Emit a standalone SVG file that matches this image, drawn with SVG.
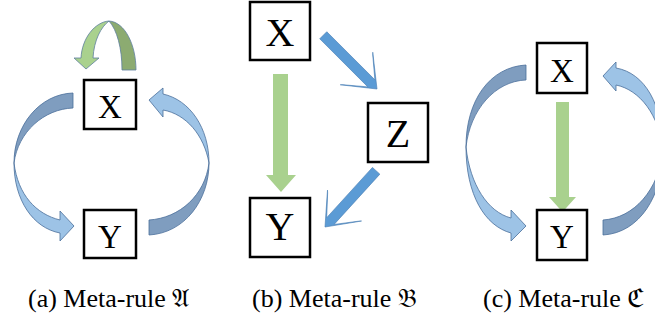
<svg xmlns="http://www.w3.org/2000/svg" width="655" height="322" viewBox="0 0 655 322">
<defs>
<style>
.box{fill:#fff;stroke:#000;stroke-width:2.5}
.lbl{text-anchor:middle;fill:#000}
.cap{font-size:26px;fill:#000}
.dk{fill:#7f9dbf;stroke:#4a6f9a;stroke-width:0.8;stroke-linejoin:round}
.lt{fill:#9dc3e6;stroke:#4a6f9a;stroke-width:0.8;stroke-linejoin:round}
.gl{fill:#a9d18e;stroke:#5e7f9e;stroke-width:0.8;stroke-linejoin:round}
.gd{fill:#8cab71;stroke:#5e7f9e;stroke-width:0.8;stroke-linejoin:round}
.gs{fill:#a9d18e}
.bs{fill:#5b9bd5;stroke:#4a7fb5;stroke-width:0.6;stroke-linejoin:round}
</style>
<path id="barb" d="M-76,-5 L-8,-5 L-27,-21 L-29,-23 L0,0 L-29,23 L-27,21 L-8,5 L-76,5 Z"/>
</defs>
<rect width="655" height="322" fill="#fff"/>
<g id="connectors">
<path class="dk" d="M73,93 C40,94 14,125 14,163 C18,132 44,109 73,108 Z"/>
<path class="lt" d="M14,163 C14,200 33,228 60,233 L60,241 L74,226 L60,211 L60,220 C36,214 18,195 14,163 Z"/>
<path class="dk" d="M149,235 C185,233 209,200 209,163 C205,195 180,218 149,220 Z"/>
<path class="lt" d="M209,163 C209,128 190,100 163,94 L163,88 L149,100 L163,117 L163,110 C186,114 204,135 209,163 Z"/>
<path class="gl" d="M109,21 C95,22 82,38 81,58 L74,58 L86,69 L99,58 L93,58 C94,40 101,27 109,21 Z"/>
<path class="gd" d="M109,21 C125,22 136,45 136,70 L122,70 C122,48 117,30 109,21 Z"/>
<path class="gs" d="M273,74 L288,74 L288,175 L296,175 L281,192 L266,175 L273,175 Z"/>
<use href="#barb" class="bs" transform="translate(377,89) rotate(45)"/>
<use href="#barb" class="bs" transform="translate(325,227) rotate(132.3)"/>
<path class="dk" d="M526,65 C490,67 466,100 466,147 C470,110 495,81 526,80 Z"/>
<path class="lt" d="M466,147 C466,195 485,226 511,233 L511,241 L526,226 L511,210 L511,218 C488,212 470,185 466,147 Z"/>
<path class="dk" d="M603,235 C640,233 663,195 663,150 C659,190 634,218 603,220 Z"/>
<path class="lt" d="M663,150 C663,105 645,73 616,68 L616,62 L603,76 L616,91 L616,85 C640,90 659,115 663,150 Z"/>
<path class="gs" d="M556,102 L569,102 L569,197 L576,197 L562.5,212 L549,197 L556,197 Z"/>
</g>
<g font-family="'Liberation Serif', 'Times New Roman', 'DejaVu Serif', serif">
<g id="a-X"><rect class="box" x="84" y="80" width="52" height="49"/><text class="lbl" x="110" y="118" font-size="33">X</text></g>
<g id="a-Y"><rect class="box" x="84" y="210" width="52" height="48"/><text class="lbl" x="110" y="248" font-size="33">Y</text></g>
<g id="b-X"><rect class="box" x="250" y="2" width="60" height="58"/><text class="lbl" x="280" y="46" font-size="40">X</text></g>
<g id="b-Z"><rect class="box" x="368" y="103" width="60" height="59"/><text class="lbl" x="398" y="147" font-size="40">Z</text></g>
<g id="b-Y"><rect class="box" x="250" y="198" width="60" height="59"/><text class="lbl" x="280" y="240" font-size="40">Y</text></g>
<g id="c-X"><rect class="box" x="537" y="43" width="50" height="50"/><text class="lbl" x="562" y="82" font-size="33">X</text></g>
<g id="c-Y"><rect class="box" x="537" y="210" width="50" height="50"/><text class="lbl" x="562" y="248" font-size="33">Y</text></g>
<g id="captions">
<text class="cap" x="28" y="307">(a) Meta-rule 𝔄</text>
<text class="cap" x="252" y="307">(b) Meta-rule 𝔅</text>
<text class="cap" x="483" y="307">(c) Meta-rule ℭ</text>
</g>
</g>
</svg>
